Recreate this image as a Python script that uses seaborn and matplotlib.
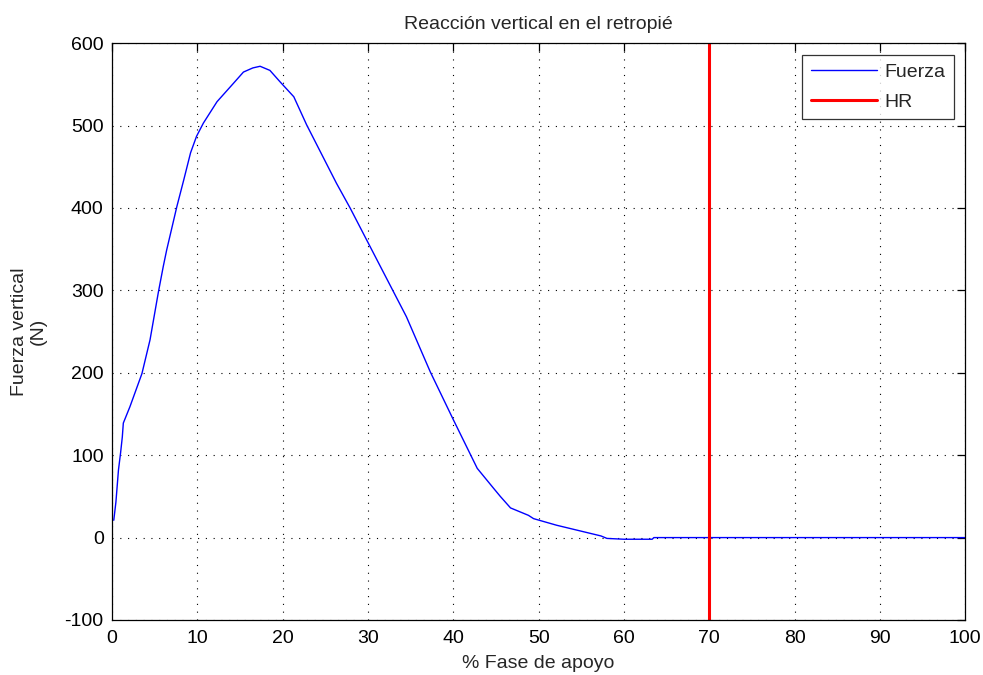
import matplotlib
matplotlib.use("Agg")
import matplotlib.pyplot as plt
import seaborn as sns
import pandas as pd

# Vertical ground reaction under the rearfoot across the stance phase
pct_apoyo = [0.2, 0.45, 0.75, 1.0, 1.2, 1.32, 2.1, 3.5, 4.45, 5.43, 6.0,
             6.4, 7.6, 8.4, 9.2, 9.9, 10.7, 12.3, 14.2, 15.4, 16.5, 17.35,
             18.5, 19.7, 21.3, 22.8, 26.3, 27.9, 30.05, 33.0, 34.5, 37.3,
             40.0, 42.8, 44.7, 45.5, 46.7, 48.8, 49.4, 52.1, 54.5, 57.3,
             58.0, 60.0, 63.3, 63.5, 100.0]
fuerza = [21, 43, 82, 103, 122, 139, 159, 199, 240, 298, 329,
          349, 402, 434, 467, 487, 503, 529, 551, 565, 570, 572,
          567, 553, 535, 501, 430, 400, 357, 298, 268, 201,
          143, 84, 60, 50, 36, 27, 23, 15, 9, 2,
          -1, -2, -2, 0, 0]

# Heel rise instant (% of stance)
hr_pct = [70, 70]
hr_fuerza = [-100, 600]

x_ticks = list(range(0, 101, 10))
y_ticks = list(range(-100, 601, 100))

sns.set_theme(style="white")
plt.rcParams["font.family"] = ["Liberation Sans", "DejaVu Sans"]
plt.rcParams["font.size"] = 14
plt.rcParams["axes.unicode_minus"] = False

fig = plt.figure(figsize=(9.83, 6.75), dpi=100)
ax = fig.add_axes([0.114, 0.0815, 0.868, 0.8545])

df = pd.DataFrame({"pct": pct_apoyo, "F": fuerza})
df_hr = pd.DataFrame({"pct": hr_pct, "F": hr_fuerza})

sns.lineplot(data=df, x="pct", y="F", ax=ax, color="#0000ff", linewidth=1.0,
             label="Fuerza", sort=False, estimator=None)
sns.lineplot(data=df_hr, x="pct", y="F", ax=ax, color="#ff0000", linewidth=2.2,
             label="HR", sort=False, estimator=None)

ax.set_xlim(0, 100)
ax.set_ylim(-100, 600)
ax.set_xticks(x_ticks)
ax.set_yticks(y_ticks)
ax.grid(True, color="black", linestyle=(0, (1, 6)), linewidth=0.8)
ax.set_axisbelow(True)

for s in ax.spines.values():
    s.set_color("black")
    s.set_linewidth(0.9)
ax.tick_params(direction="in", length=6, width=0.9, colors="black",
               top=True, right=True, labelsize=14)
ax.tick_params(axis="y", pad=6)
ax.tick_params(axis="x", pad=7)

ax.set_title("Reacción vertical en el retropié", fontsize=14, pad=10)
ax.set_xlabel("% Fase de apoyo", fontsize=14, labelpad=6)
ax.set_ylabel("Fuerza vertical\n(N)", fontsize=14, labelpad=13, linespacing=1.15)

leg = ax.legend(loc="upper right", fontsize=14, frameon=True, fancybox=False,
                handlelength=3.4, handletextpad=0.35, borderaxespad=0.6,
                borderpad=0.45, labelspacing=0.6)
leg.get_frame().set_edgecolor("black")
leg.get_frame().set_linewidth(0.9)

fig.savefig("out.png", dpi=100)
